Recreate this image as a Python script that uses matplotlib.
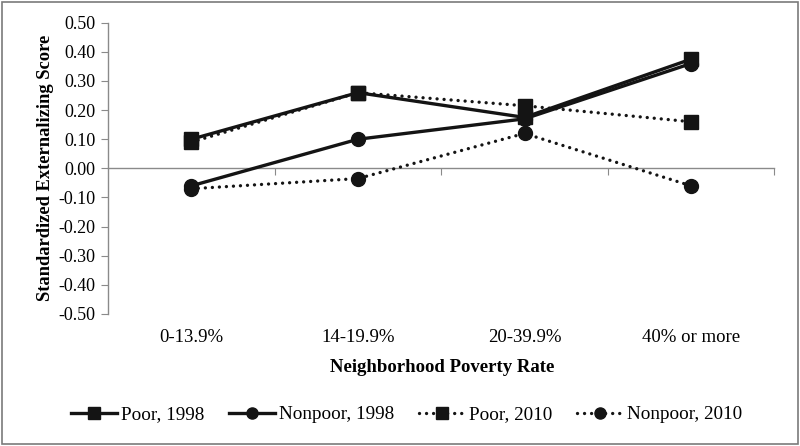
import matplotlib
matplotlib.use("Agg")
import matplotlib.pyplot as plt
from matplotlib.patches import Rectangle

categories = ["0-13.9%", "14-19.9%", "20-39.9%", "40% or more"]
poor_1998 = [0.10, 0.26, 0.175, 0.375]
nonpoor_1998 = [-0.06, 0.10, 0.17, 0.36]
poor_2010 = [0.09, 0.26, 0.215, 0.16]
nonpoor_2010 = [-0.07, -0.035, 0.12, -0.06]
y_ticks = [-0.5, -0.4, -0.3, -0.2, -0.1, 0.0, 0.1, 0.2, 0.3, 0.4, 0.5]

plt.rcParams['font.family'] = 'Liberation Serif'
FONT = 'Liberation Serif'
ink = '#141414'
axc = '#8a8a8a'
dots = (0, (0.01, 2.1))

fig = plt.figure(figsize=(8, 4.46), dpi=100)
ax = fig.add_axes([0.135, 0.296, 0.833, 0.653])

x = list(range(len(categories)))
ax.plot(x, poor_1998, color=ink, lw=2.4, marker='s', ms=10, label='Poor, 1998', zorder=4)
ax.plot(x, nonpoor_1998, color=ink, lw=2.4, marker='o', ms=10, label='Nonpoor, 1998', zorder=4)
ax.plot(x, poor_2010, color=ink, lw=2.4, ls=dots, dash_capstyle='round',
        marker='s', ms=10, label='Poor, 2010', zorder=3)
ax.plot(x, nonpoor_2010, color=ink, lw=2.4, ls=dots, dash_capstyle='round',
        marker='o', ms=10, label='Nonpoor, 2010', zorder=3)

ax.set_xlim(-0.5, len(categories) - 0.5)
ax.set_ylim(-0.5, 0.5)
ax.set_yticks(y_ticks)
ax.set_yticklabels([f"{v:.2f}" for v in y_ticks], fontsize=13, family=FONT)

for s in ['top', 'right']:
    ax.spines[s].set_visible(False)
ax.spines['left'].set_color(axc)
ax.spines['left'].set_linewidth(1.0)
ax.spines['bottom'].set_position(('data', 0))
ax.spines['bottom'].set_color(axc)
ax.spines['bottom'].set_linewidth(1.0)
ax.tick_params(axis='y', direction='out', length=5, color=axc, pad=4)
ax.set_xticks([i + 0.5 for i in x])
ax.tick_params(axis='x', direction='out', length=5, color=axc, labelbottom=False)

for i, c in enumerate(categories):
    ax.text(i, -0.5 - 0.08, c, ha='center', va='center', fontsize=13.5,
            family=FONT, transform=ax.transData)

ax.set_ylabel('Standardized Externalizing Score', fontsize=13.3, fontweight='bold',
              family=FONT, labelpad=3)
fig.text(0.553, 0.177, 'Neighborhood Poverty Rate', ha='center', va='center',
         fontsize=13.5, fontweight='bold', family=FONT)

leg = fig.legend(loc='center', bbox_to_anchor=(0.508, 0.07), ncol=4, frameon=False,
                 prop={'family': FONT, 'size': 13.8}, handlelength=2.4,
                 handletextpad=0.2, columnspacing=1.3, markerscale=0.8)

fig.patches.append(Rectangle((0.003, 0.005), 0.994, 0.99, transform=fig.transFigure,
                             fill=False, edgecolor='#7a7a7a', lw=1.2))

fig.savefig('out.png', dpi=100)
